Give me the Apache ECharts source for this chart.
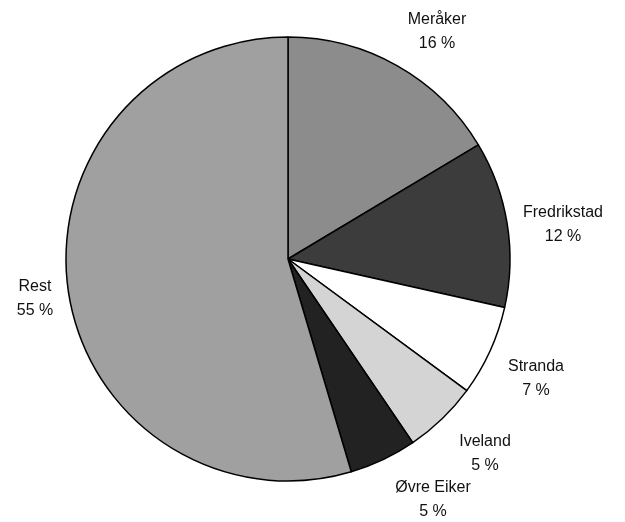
<!DOCTYPE html>
<html>
<head>
<meta charset="utf-8">
<script src="https://cdn.jsdelivr.net/npm/echarts@6/dist/echarts.min.js"></script>
<style>
html,body{margin:0;padding:0;background:#fff;}
#chart{width:625px;height:522px;}
</style>
</head>
<body>
<div id="chart"></div>
<script>
const categories = ['Meråker', 'Fredrikstad', 'Stranda', 'Iveland', 'Øvre Eiker', 'Rest'];
const shares = [16.4, 12.1, 6.6, 5.4, 4.9, 54.6];
const sliceColors = ['#8c8c8c', '#3c3c3c', '#ffffff', '#d4d4d4', '#222222', '#a0a0a0'];
// label anchor positions (pixel centres of text blocks)
const labelPos = [[437, 32], [563, 225], [536, 379], [485, 454], [433, 500], [35, 299]];

const chart = echarts.init(document.getElementById('chart'), null, {renderer: 'canvas'});
chart.setOption({
  animation: false,
  backgroundColor: '#ffffff',
  series: [{
    type: 'pie',
    center: [288, 259],
    radius: 222,
    startAngle: 90,
    clockwise: true,
    avoidLabelOverlap: false,
    data: categories.map((c, i) => ({name: c, value: shares[i], itemStyle: {color: sliceColors[i]}})),
    itemStyle: {borderColor: '#000', borderWidth: 1.5},
    label: {
      show: true,
      position: 'outside',
      formatter: p => p.name + '\n' + Math.round(p.percent) + ' %',
      fontFamily: 'Liberation Sans, Arial, sans-serif',
      fontSize: 16,
      lineHeight: 24,
      color: '#111',
      align: 'center'
    },
    labelLine: {show: false},
    labelLayout: function (params) {
      const p = labelPos[params.dataIndex];
      return {x: p[0], y: p[1], align: 'center', verticalAlign: 'middle'};
    },
    emphasis: {disabled: true}
  }]
});
</script>
</body>
</html>
